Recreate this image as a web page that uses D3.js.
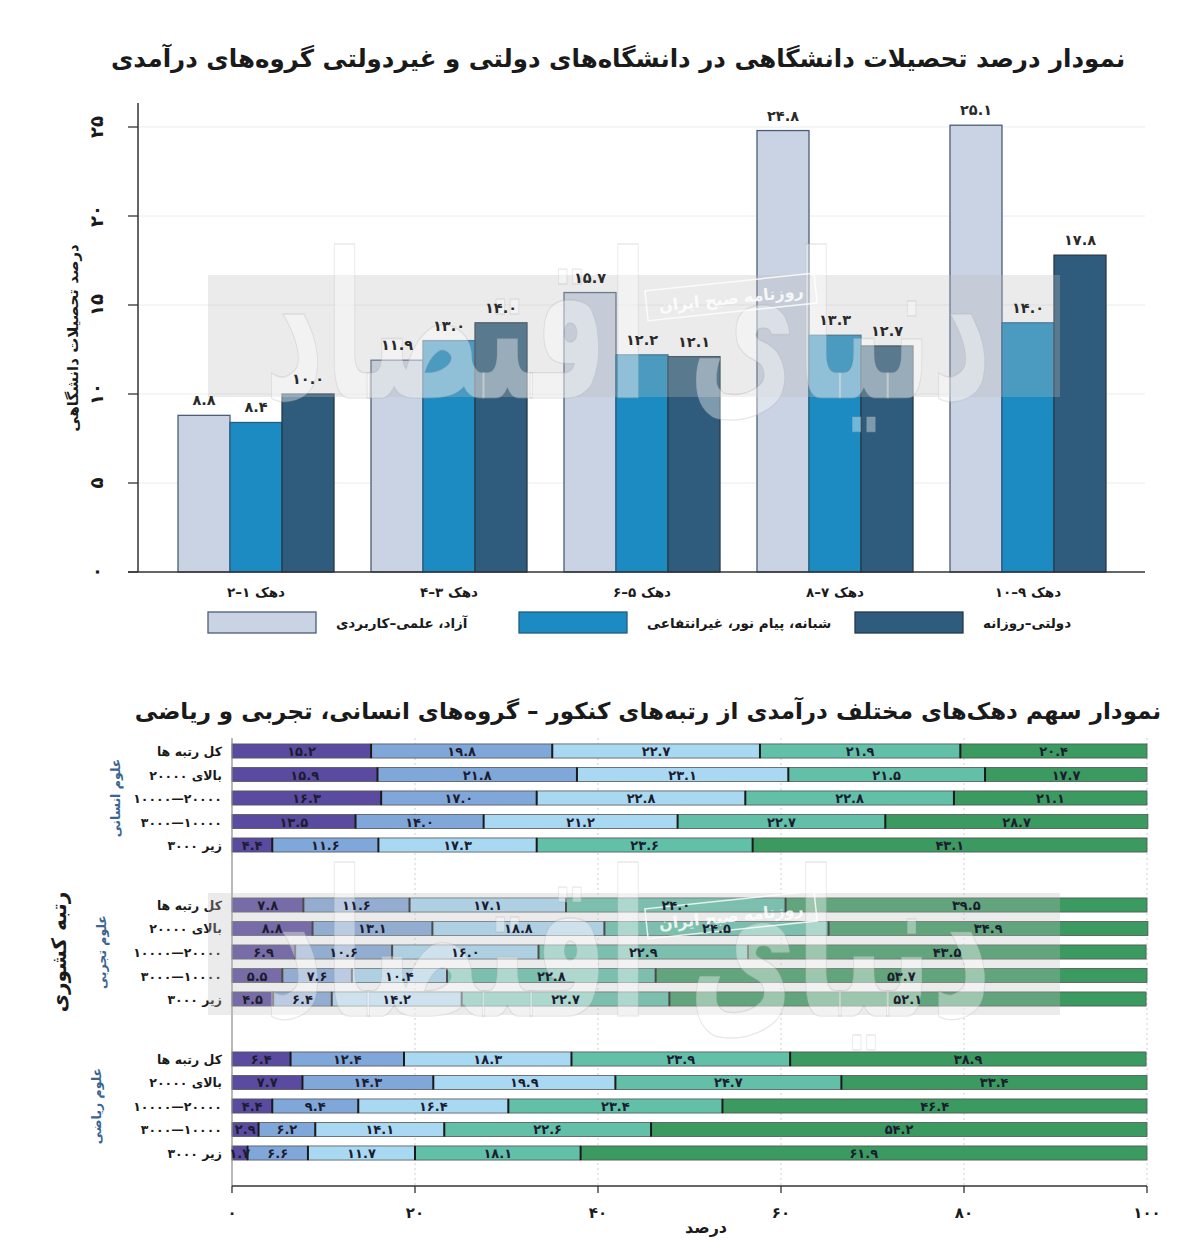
<!DOCTYPE html>
<html><head><meta charset="utf-8">
<script src="https://cdn.jsdelivr.net/npm/d3@7"></script>
<style>
body{margin:0;background:#fff}
svg{display:block}
text{font-family:"DejaVu Sans",sans-serif;font-weight:bold}
</style>
</head><body>
<svg id="c" width="1200" height="1258"></svg>
<script>
// ---------- DATA: top chart ----------
const topTitle = "نمودار درصد تحصیلات دانشگاهی در دانشگاه‌های دولتی و غیردولتی گروه‌های درآمدی";
const decileGroups = ["دهک ۱–۲", "دهک ۳–۴", "دهک ۵–۶", "دهک ۷–۸", "دهک ۹–۱۰"];
const uniSeries = ["آزاد، علمی–کاربردی", "شبانه، پیام نور، غیرانتفاعی", "دولتی–روزانه"];
const azadValues = [8.8, 11.9, 15.7, 24.8, 25.1];
const shabaneValues = [8.4, 13.0, 12.2, 13.3, 14.0];
const dolatiValues = [10.0, 14.0, 12.1, 12.7, 17.8];
const yTicksTop = [0, 5, 10, 15, 20, 25];
const yTitleTop = "درصد تحصیلات دانشگاهی";

// ---------- DATA: bottom chart ----------
const bottomTitle = "نمودار سهم دهک‌های مختلف درآمدی از رتبه‌های کنکور – گروه‌های انسانی، تجربی و ریاضی";
const subjects = ["علوم انسانی", "علوم تجربی", "علوم ریاضی"];
const rankGroups = ["کل رتبه ها", "بالای ۲۰۰۰۰", "۲۰۰۰۰—۱۰۰۰۰", "۱۰۰۰۰—۳۰۰۰", "زیر ۳۰۰۰"];
const humanitiesShares = [
  [15.2, 19.8, 22.7, 21.9, 20.4],
  [15.9, 21.8, 23.1, 21.5, 17.7],
  [16.3, 17.0, 22.8, 22.8, 21.1],
  [13.5, 14.0, 21.2, 22.7, 28.7],
  [4.4, 11.6, 17.3, 23.6, 43.1]
];
const experimentalShares = [
  [7.8, 11.6, 17.1, 24.0, 39.5],
  [8.8, 13.1, 18.8, 24.5, 34.9],
  [6.9, 10.6, 16.0, 22.9, 43.5],
  [5.5, 7.6, 10.4, 22.8, 53.7],
  [4.5, 6.4, 14.2, 22.7, 52.1]
];
const mathShares = [
  [6.4, 12.4, 18.3, 23.9, 38.9],
  [7.7, 14.3, 19.9, 24.7, 33.4],
  [4.4, 9.4, 16.4, 23.4, 46.4],
  [2.9, 6.2, 14.1, 22.6, 54.2],
  [1.7, 6.6, 11.7, 18.1, 61.9]
];
const xTicksBottom = [0, 20, 40, 60, 80, 100];
const xTitleBottom = "درصد";
const yTitleBottom = "رتبه کشوری";
const watermarkMain = "دنیای اقتصاد";
const watermarkSub = "روزنامه صبح ایران";

// ---------- helpers ----------
const faDigits = "۰۱۲۳۴۵۶۷۸۹";
const toFa = s => String(s).replace(/[0-9]/g, d => faDigits[+d]);
const fmt1 = v => toFa(d3.format(".1f")(v));

const svg = d3.select("#c");

// ================= TOP CHART =================
const topColors = ["#c9d3e3", "#1b8bc2", "#2f5c7c"];
const topStrokes = ["#4b5d78", "#245d82", "#26394a"];
const topSeriesValues = [azadValues, shabaneValues, dolatiValues];

svg.append("text").attr("x", 618).attr("y", 67).attr("text-anchor", "middle")
  .attr("font-size", 24.5).attr("fill", "#1a1a1a").text(topTitle);

const yT = d3.scaleLinear().domain([0, 25]).range([572, 127]);
const xT = d3.scaleBand().domain(decileGroups).range([159.5, 1124.5])
  .paddingInner(0.1917).paddingOuter(0.0959);
const xSub = d3.scaleBand().domain(d3.range(uniSeries.length)).range([0, xT.bandwidth()]);

const gTop = svg.append("g");
gTop.selectAll(".grid").data(yTicksTop.filter(d => d > 0)).join("line")
  .attr("x1", 138).attr("x2", 1145).attr("y1", d => yT(d)).attr("y2", d => yT(d))
  .attr("stroke", "#ececec").attr("stroke-width", 1);

decileGroups.forEach((g, gi) => {
  topSeriesValues.forEach((vals, si) => {
    const x = xT(g) + xSub(si);
    gTop.append("rect").attr("x", x).attr("y", yT(vals[gi]))
      .attr("width", xSub.bandwidth()).attr("height", yT(0) - yT(vals[gi]))
      .attr("fill", topColors[si]).attr("stroke", topStrokes[si]).attr("stroke-width", 1.3);
  });
});

gTop.append("line").attr("x1", 138).attr("x2", 138).attr("y1", 103).attr("y2", 572)
  .attr("stroke", "#333").attr("stroke-width", 1.5);
gTop.append("line").attr("x1", 128).attr("x2", 1145).attr("y1", 572).attr("y2", 572)
  .attr("stroke", "#333").attr("stroke-width", 1.5);
gTop.selectAll(".tk").data(yTicksTop).join("line")
  .attr("x1", 128).attr("x2", 138).attr("y1", d => yT(d)).attr("y2", d => yT(d))
  .attr("stroke", "#333").attr("stroke-width", 1.3);
gTop.selectAll(".tl").data(yTicksTop).join("text")
  .attr("transform", d => `translate(103,${yT(d)}) rotate(-90)`)
  .attr("text-anchor", "middle").attr("font-size", 18).attr("fill", "#1a1a1a")
  .text(d => toFa(d));
gTop.append("text").attr("transform", "translate(78,338) rotate(-90)")
  .attr("text-anchor", "middle").attr("font-size", 15).attr("fill", "#1a1a1a").text(yTitleTop);

gTop.selectAll(".xl").data(decileGroups).join("text")
  .attr("x", d => xT(d) + xT.bandwidth() / 2).attr("y", 597)
  .attr("text-anchor", "middle").attr("direction", "rtl").attr("font-size", 13.5).attr("fill", "#1a1a1a")
  .text(d => d);

const legX = [208, 519, 855];
uniSeries.forEach((s, i) => {
  gTop.append("rect").attr("x", legX[i]).attr("y", 612).attr("width", 108).attr("height", 21)
    .attr("fill", topColors[i]).attr("stroke", topStrokes[i]).attr("stroke-width", 1.3);
  gTop.append("text").attr("x", legX[i] + 128).attr("y", 628).attr("text-anchor", "end")
    .attr("font-size", 13.5).attr("fill", "#1a1a1a").text(s)
    .each(function () {
      const w = this.getComputedTextLength();
      d3.select(this).attr("x", legX[i] + 128 + w);
    });
});

// ================= BOTTOM CHART =================
const segColors = ["#5a4aa0", "#80a7d9", "#a9d9f2", "#62c0a9", "#3b9a60"];
const allShares = [humanitiesShares, experimentalShares, mathShares];

svg.append("text").attr("x", 648).attr("y", 719).attr("text-anchor", "middle")
  .attr("font-size", 23).attr("fill", "#1a1a1a").text(bottomTitle);

const xB = d3.scaleLinear().domain([0, 100]).range([232, 1147]);
const yG = d3.scaleBand().domain(subjects).range([739.25, 1164.75]).paddingInner(0.237).paddingOuter(0);
const yR = d3.scaleBand().domain(rankGroups).range([0, yG.bandwidth()]).paddingInner(0.4).paddingOuter(0.2);

const gB = svg.append("g");
gB.selectAll(".vg").data(xTicksBottom.filter(d => d > 0)).join("line")
  .attr("x1", d => xB(d)).attr("x2", d => xB(d)).attr("y1", 738).attr("y2", 1186)
  .attr("stroke", "#cfcfcf").attr("stroke-width", 1).attr("stroke-dasharray", "2,3");

const stack = d3.stack().keys(d3.range(5)).value((row, k) => row[k]);
const segLabels = [];

subjects.forEach((subj, si) => {
  const rows = allShares[si];
  const series = stack(rows);
  const gy = yG(subj);
  rankGroups.forEach((rg, ri) => {
    const y = gy + yR(rg);
    const h = yR.bandwidth();
    series.forEach((ser, k) => {
      const [a, b] = ser[ri];
      gB.append("rect").attr("x", xB(a)).attr("y", y).attr("width", xB(b) - xB(a)).attr("height", h)
        .attr("fill", segColors[k]).attr("stroke", "#555").attr("stroke-width", 0.8);
      segLabels.push({x: (xB(a) + xB(b)) / 2, y: y + h / 2 + 5, t: fmt1(rows[ri][k])});
    });
    series.slice(0, 4).forEach(ser => {
      const b = ser[ri][1];
      gB.append("line").attr("x1", xB(b)).attr("x2", xB(b)).attr("y1", y).attr("y2", y + h)
        .attr("stroke", "#1a1a1a").attr("stroke-width", 2);
    });
    gB.append("text").attr("x", 222).attr("y", y + h / 2 + 5)
      .attr("text-anchor", "start").attr("direction", "rtl")
      .attr("font-size", 12.5).attr("fill", "#1a1a1a").text(rg);
  });
  gB.append("text").attr("transform", `translate(${[120, 106, 101][si]},${gy + yG.bandwidth() / 2}) rotate(-90)`)
    .attr("text-anchor", "middle").attr("font-size", 12.5)
    .attr("fill", "#3a6590").text(subj);
});

gB.append("line").attr("x1", 232).attr("x2", 232).attr("y1", 738).attr("y2", 1186)
  .attr("stroke", "#8a8a8a").attr("stroke-width", 1.2);
gB.append("line").attr("x1", 232).attr("x2", 1147).attr("y1", 1186).attr("y2", 1186)
  .attr("stroke", "#333").attr("stroke-width", 1.3);
gB.selectAll(".xt").data(xTicksBottom).join("line")
  .attr("x1", d => xB(d)).attr("x2", d => xB(d)).attr("y1", 1186).attr("y2", 1193)
  .attr("stroke", "#333").attr("stroke-width", 1.3);
gB.selectAll(".xtl").data(xTicksBottom).join("text")
  .attr("x", d => xB(d)).attr("y", 1218).attr("text-anchor", "middle")
  .attr("font-size", 15).attr("fill", "#1a1a1a").text(d => toFa(d));
gB.append("text").attr("x", 706).attr("y", 1233).attr("text-anchor", "middle")
  .attr("font-size", 16).attr("fill", "#1a1a1a").text(xTitleBottom);
gB.append("text").attr("transform", "translate(66,952) rotate(-90)")
  .attr("text-anchor", "middle").attr("font-size", 20).attr("fill", "#1a1a1a").text(yTitleBottom);

// ================= WATERMARKS =================
[[275, 336], [893, 954]].forEach(([y0, cy]) => {
  const w = svg.append("g").attr("pointer-events", "none");
  w.append("rect").attr("x", 208).attr("y", y0).attr("width", 852).attr("height", 122)
    .attr("fill", "#bdbdbd").attr("opacity", 0.3);
  w.append("text").attr("transform", `translate(628,${cy + 62}) scale(0.78,1.35)`)
    .attr("text-anchor", "middle")
    .attr("font-size", 150).attr("font-weight", "normal")
    .attr("fill", "#ffffff").attr("fill-opacity", 0.38)
    .attr("stroke", "#a0a0a0").attr("stroke-opacity", 0.25).attr("stroke-width", 1)
    .text(watermarkMain);
  const sb = w.append("g").attr("transform", `translate(730,${y0 + 12}) rotate(-6)`);
  sb.append("rect").attr("x", -85).attr("y", -5).attr("width", 170).attr("height", 30)
    .attr("fill", "none").attr("stroke", "#ffffff").attr("stroke-opacity", 0.8).attr("stroke-width", 1.5);
  sb.append("text").attr("x", 0).attr("y", 17).attr("text-anchor", "middle")
    .attr("font-size", 16).attr("font-weight", "normal").attr("fill", "#ffffff").attr("fill-opacity", 0.85)
    .text(watermarkSub);
});

// value labels drawn above watermark so they stay legible
decileGroups.forEach((g, gi) => {
  topSeriesValues.forEach((vals, si) => {
    const x = xT(g) + xSub(si);
    svg.append("text").attr("x", x + xSub.bandwidth() / 2).attr("y", yT(vals[gi]) - 10)
      .attr("text-anchor", "middle").attr("font-size", 14.5).attr("fill", "#2a2a2a")
      .text(fmt1(vals[gi]));
  });
});
svg.append("g").selectAll("text").data(segLabels).join("text")
  .attr("x", d => d.x).attr("y", d => d.y).attr("text-anchor", "middle")
  .attr("font-size", 13).attr("fill", "#1c1c30").text(d => d.t);
</script>
</body></html>
